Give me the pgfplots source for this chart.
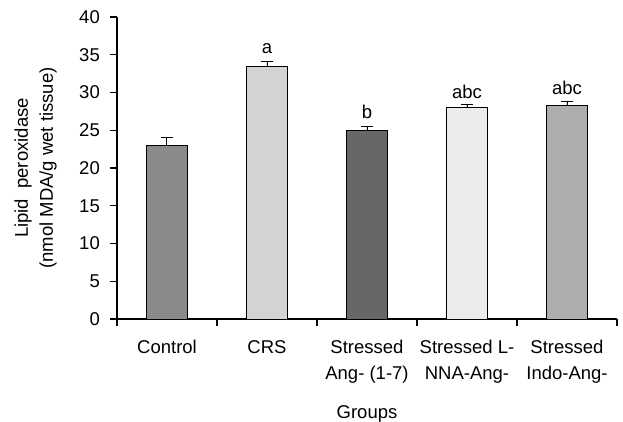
\documentclass[border=0pt]{standalone}
\usepackage{fontspec}
\setmainfont{Liberation Sans}
\usepackage{pgfplots}
\pgfplotsset{compat=1.18}
\definecolor{cControl}{HTML}{8A8A8A}
\definecolor{cCRS}{HTML}{D2D4D4}
\definecolor{cAng}{HTML}{676767}
\definecolor{cLNNA}{HTML}{EBEBEB}
\definecolor{cIndo}{HTML}{ADADAD}
\begin{document}
\begin{tikzpicture}
\useasboundingbox (-117bp,-103bp) rectangle (506bp,319bp);
\begin{axis}[
  scale only axis,
  width=500bp, height=302bp,
  xmin=-0.5, xmax=4.5,
  ymin=0, ymax=40,
  axis x line=bottom, axis y line=left,
  axis line style={line width=1.2pt, -},
  every tick/.style={black, line width=1.2pt},
  tick align=outside,
  ytick={0,5,...,40},
  xtick={0,1,2,3,4},
  xticklabels={Control, CRS, {Stressed\\Ang- (1-7)}, {Stressed L-\\NNA-Ang-}, {Stressed\\Indo-Ang-}},
  minor xtick={-0.5,0.5,1.5,2.5,3.5,4.5},
  major tick length=7bp,
  minor tick length=7bp,
  major x tick style={draw=none},
  font=\fontsize{18.5bp}{26bp}\selectfont,
  /pgf/number format/assume math mode=true,
  xticklabel style={align=center, anchor=north, inner sep=0pt, yshift=-14bp},
  yticklabel style={anchor=east, inner sep=0pt, xshift=-10bp},
  ylabel={Lipid\ \ peroxidase\\(nmol MDA/g wet tissue)},
  ylabel style={align=center, rotate=0, at={(axis description cs:-0.12,0.5)}, anchor=south, inner sep=0pt, font=\fontsize{18.5bp}{25bp}\selectfont},
  xlabel={Groups},
  xlabel style={at={(axis description cs:0.5,-0.331)}, anchor=base, inner sep=0pt},
  ybar, bar width=41bp, bar shift=0pt,
  error bars/y dir=plus, error bars/y explicit,
  error bars/error bar style={line width=1pt, black},
  error bars/error mark options={black, line width=1pt, mark size=6bp, rotate=90},
  clip=false,
]
\addplot[fill=cControl, draw=black, line width=0.8pt] coordinates {(0,23.0) +- (0,1.1)};
\addplot[fill=cCRS, draw=black, line width=0.8pt] coordinates {(1,33.5) +- (0,0.6)};
\addplot[fill=cAng, draw=black, line width=0.8pt] coordinates {(2,25.0) +- (0,0.5)};
\addplot[fill=cLNNA, draw=black, line width=0.8pt] coordinates {(3,28.0) +- (0,0.4)};
\addplot[fill=cIndo, draw=black, line width=0.8pt] coordinates {(4,28.3) +- (0,0.5)};
\node[anchor=base, inner sep=0pt] at (axis cs:1,35.2) {a};
\node[anchor=base, inner sep=0pt] at (axis cs:2,26.6) {b};
\node[anchor=base, inner sep=0pt] at (axis cs:3,29.2) {abc};
\node[anchor=base, inner sep=0pt] at (axis cs:4,29.8) {abc};
\end{axis}
\end{tikzpicture}
\end{document}
